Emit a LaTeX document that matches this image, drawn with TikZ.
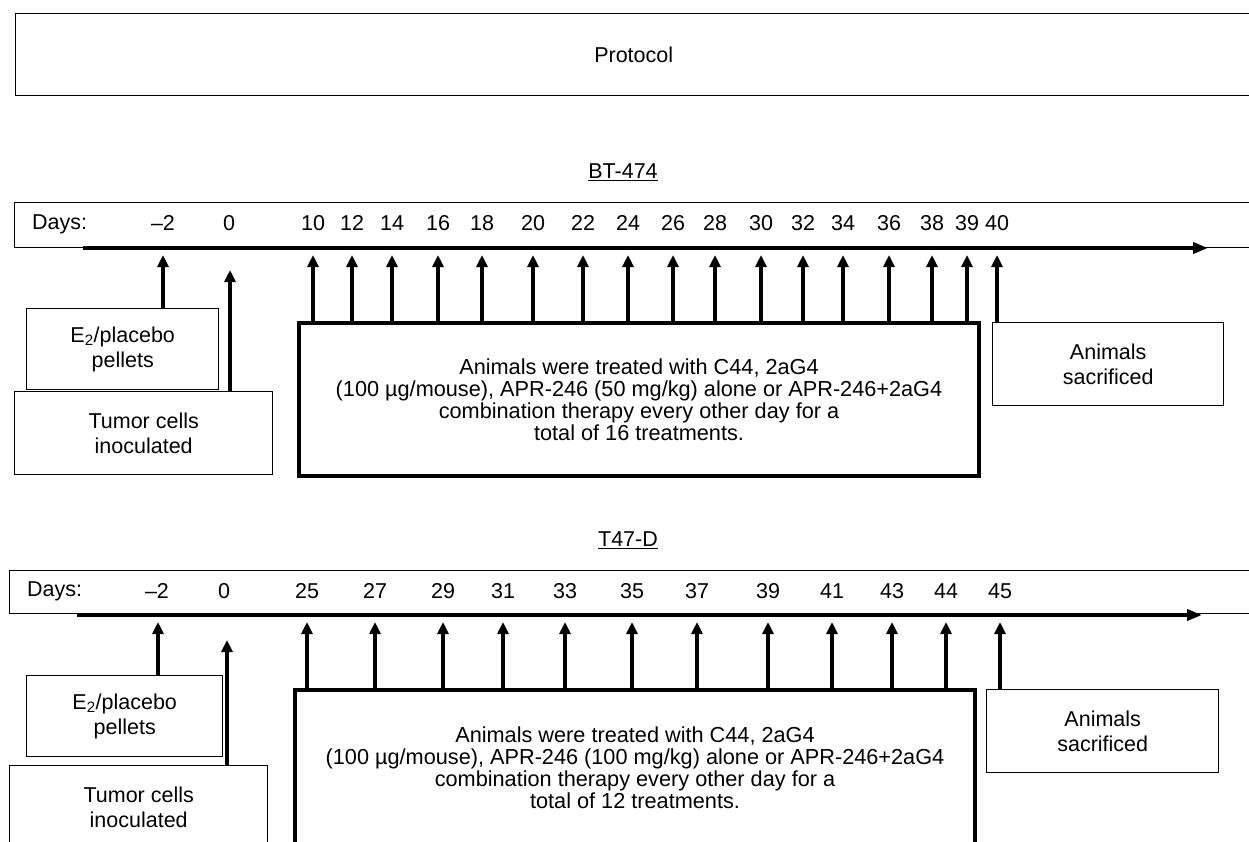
\documentclass[tikz,border=0pt]{standalone}
\usepackage{fontspec}
\setmainfont{Liberation Sans}
\usetikzlibrary{positioning, arrows.meta, calc}
\tikzset{
  box/.style={draw, line width=1.4pt, align=center, inner sep=0pt, anchor=north west},
  treatbox/.style={draw, line width=4pt, align=center, inner sep=0pt, anchor=north west,
    font=\fontsize{21.7}{22}\selectfont},
  dayarrow/.style={line width=3.5pt, -{Triangle[length=12pt,width=11pt]}},
  axisline/.style={line width=4.5pt, -{Triangle[length=15pt,width=11pt]}},
  daylabel/.style={inner sep=0pt}
}

\begin{document}
\begin{tikzpicture}[x=1pt, y=-1pt, font=\fontsize{21.5}{24.5}\selectfont]
    \useasboundingbox (0,0) rectangle (1249,841);
    \clip (0,0) rectangle (1249,841);

    % Header
    \node[box, minimum width=1236pt, minimum height=82pt] (proto) at (15,13) {Protocol};

    % ---------------- BT-474 ----------------
    \node (titleA) at (623,172) {\underline{BT-474}};
    \node[box, minimum width=1260pt, minimum height=45pt] (daysA) at (14,202) {};
    \node[daylabel, anchor=west] (lblA) at (32,224) {Days:};
    \coordinate (axA0) at (83,248);
    \coordinate (axA1) at (1208,248);
    \draw[axisline] (axA0) -- (axA1);

    % Boxes
    \node[box, minimum width=192pt, minimum height=81pt] (e2A) at (26,308) {E\textsubscript{2}/placebo\\pellets};
    \node[box, minimum width=258pt, minimum height=83pt] (tumA) at (14,391) {Tumor cells\\inoculated};
    \node[treatbox, minimum width=680pt, minimum height=153pt] (treatA) at (297,321)
      {Animals were treated with C44, 2aG4\\(100 µg/mouse), APR-246 (50 mg/kg) alone or APR-246+2aG4\\combination therapy every other day for a\\total of 16 treatments.};
    \node[box, minimum width=231pt, minimum height=83pt] (sacA) at (992,322) {Animals\\sacrificed};

    % Days and arrows
    \node[daylabel] (dAm) at (163,223) {–2};
    \coordinate (tAm) at (163,255);
    \draw[dayarrow] (tAm |- e2A.north) -- (tAm);
    \node[daylabel] (dAz) at (229,223) {0};
    \coordinate (tAz) at (230,270);
    \draw[dayarrow] (tAz |- tumA.north) -- (tAz);
    \foreach \x/\d [count=\i] in {313/10, 352/12, 392/14, 438/16, 482/18, 533/20, 583/22, 628/24,
        673/26, 715/28, 761/30, 803/32, 843/34, 889/36, 932/38, 967/39} {
      \node[daylabel] (dA\i) at (\x,223) {\d};
      \coordinate (tA\i) at (\x,255);
      \draw[dayarrow] (tA\i |- treatA.north) -- (tA\i);
    }
    \node[daylabel] (dAe) at (997,223) {40};
    \coordinate (tAe) at (997,255);
    \draw[dayarrow] (tAe |- sacA.north) -- (tAe);

    % ---------------- T47-D ----------------
    \node (titleB) at (628,540) {\underline{T47-D}};
    \node[box, minimum width=1260pt, minimum height=43pt] (daysB) at (9,570) {};
    \node[daylabel, anchor=west] (lblB) at (27,591) {Days:};
    \coordinate (axB0) at (77,615);
    \coordinate (axB1) at (1202,615);
    \draw[axisline] (axB0) -- (axB1);

    % Boxes
    \node[box, minimum width=196pt, minimum height=81pt] (e2B) at (26,675) {E\textsubscript{2}/placebo\\pellets};
    \node[box, minimum width=258pt, minimum height=83pt] (tumB) at (9,765) {Tumor cells\\inoculated};
    \node[treatbox, minimum width=680pt, minimum height=156pt] (treatB) at (293,688)
      {Animals were treated with C44, 2aG4\\(100 µg/mouse), APR-246 (100 mg/kg) alone or APR-246+2aG4\\combination therapy every other day for a\\total of 12 treatments.};
    \node[box, minimum width=232pt, minimum height=83pt] (sacB) at (986,689) {Animals\\sacrificed};

    % Days and arrows
    \node[daylabel] (dBm) at (157,591) {–2};
    \coordinate (tBm) at (158,622);
    \draw[dayarrow] (tBm |- e2B.north) -- (tBm);
    \node[daylabel] (dBz) at (224,591) {0};
    \coordinate (tBz) at (227,640);
    \draw[dayarrow] (tBz |- tumB.north) -- (tBz);
    \foreach \x/\d [count=\i] in {307/25, 375/27, 443/29, 503/31, 565/33, 632/35, 697/37, 768/39,
        832/41, 892/43, 946/44} {
      \node[daylabel] (dB\i) at (\x,591) {\d};
      \coordinate (tB\i) at (\x,622);
      \draw[dayarrow] (tB\i |- treatB.north) -- (tB\i);
    }
    \node[daylabel] (dBe) at (1000,591) {45};
    \coordinate (tBe) at (1000,622);
    \draw[dayarrow] (tBe |- sacB.north) -- (tBe);
\end{tikzpicture}
\end{document}
